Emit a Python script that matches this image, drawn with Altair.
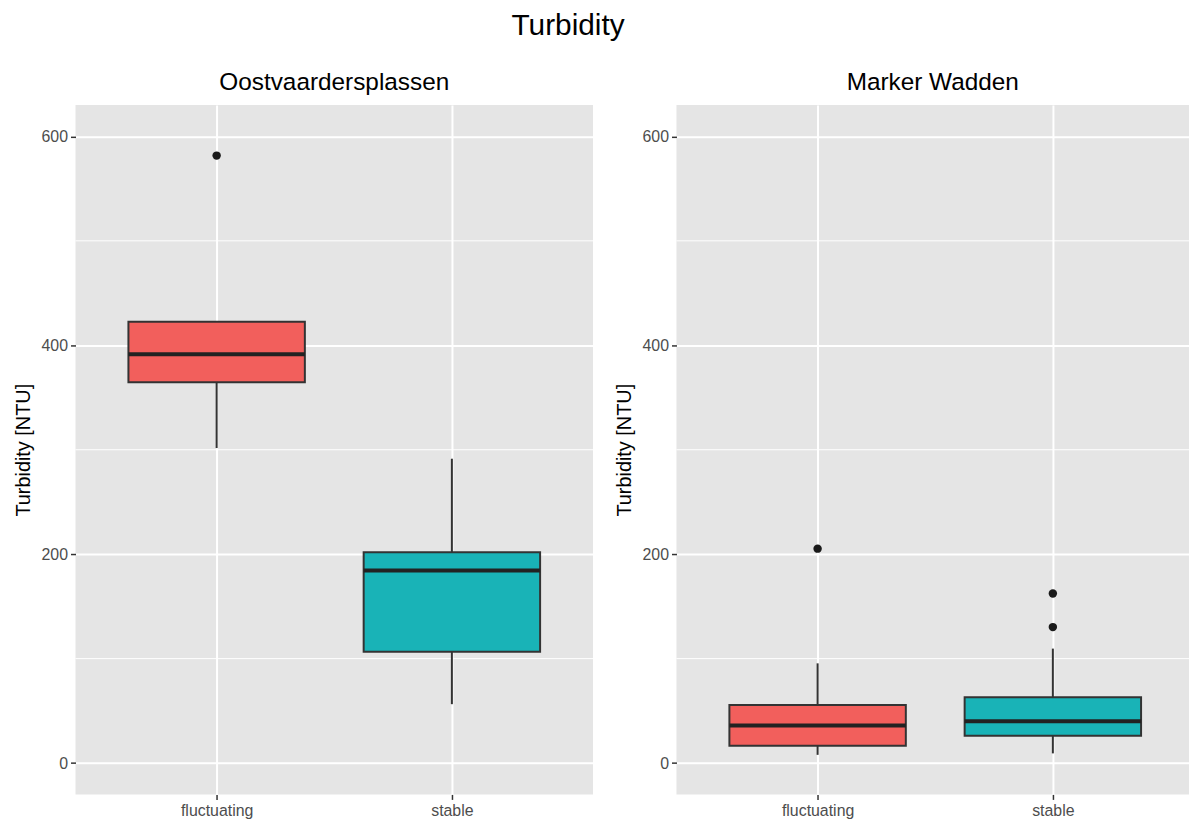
import altair as alt
import pandas as pd

# ---- data ----
categories = ["fluctuating", "stable"]
fill_colors = ["#F25F5C", "#19B3B7"]

ovp_title = "Oostvaardersplassen"
ovp_lower = [301.6, 56.4]
ovp_q1 = [364.7, 106.7]
ovp_median = [391.4, 184.4]
ovp_q3 = [422.6, 201.9]
ovp_upper = [422.6, 291.4]
ovp_outlier_cat = ["fluctuating"]
ovp_outlier_val = [581.6]

mw_title = "Marker Wadden"
mw_lower = [7.9, 9.3]
mw_q1 = [16.5, 26.1]
mw_median = [36.0, 40.1]
mw_q3 = [55.7, 63.1]
mw_upper = [95.5, 109.6]
mw_outlier_cat = ["fluctuating", "stable", "stable"]
mw_outlier_val = [205.3, 162.4, 130.2]

y_ticks = [0, 200, 400, 600]
y_minor = [100, 300, 500]
y_domain = [-30, 630]
y_title = "Turbidity [NTU]"

FONT = "Liberation Sans"
PANEL_H = 694
FULL_W = 521


def panel(title, lower, q1, med, q3, upper, ocat, oval, width):
    box = pd.DataFrame({"category": categories, "lower": lower, "q1": q1,
                        "median": med, "q3": q3, "upper": upper})
    outl = pd.DataFrame({"category": ocat, "value": oval})
    minor = pd.DataFrame({"v": y_minor})

    step = FULL_W / 2.2
    box_w = 0.75 * step

    xs = alt.Scale(type="point", padding=0.6, domain=categories, range=[0, FULL_W])
    ys = alt.Scale(domain=y_domain, nice=False, zero=False)
    xax = alt.Axis(title=None, labelAngle=0, grid=True)
    yax = alt.Axis(values=y_ticks, title=y_title)

    minor_layer = alt.Chart(minor).mark_rule(color="white", strokeWidth=1).encode(
        y=alt.Y("v:Q", scale=ys, axis=yax, title=y_title))
    whisk = alt.Chart(box).mark_rule(color="#333333", strokeWidth=2).encode(
        x=alt.X("category:N", scale=xs, axis=xax),
        y=alt.Y("lower:Q", scale=ys, axis=yax, title=y_title),
        y2="upper:Q")
    bars = alt.Chart(box).mark_bar(size=box_w, stroke="#333333", strokeWidth=2).encode(
        x=alt.X("category:N", scale=xs, axis=xax),
        y=alt.Y("q1:Q", scale=ys, axis=yax, title=y_title),
        y2="q3:Q",
        fill=alt.Fill("category:N", scale=alt.Scale(domain=categories, range=fill_colors),
                      legend=None))
    meds = alt.Chart(box).mark_tick(size=box_w, thickness=4, color="#222222", opacity=1).encode(
        x=alt.X("category:N", scale=xs, axis=xax),
        y=alt.Y("median:Q", scale=ys, axis=yax, title=y_title))
    pts = alt.Chart(outl).mark_circle(size=72, color="#1A1A1A", opacity=1).encode(
        x=alt.X("category:N", scale=xs, axis=xax),
        y=alt.Y("value:Q", scale=ys, axis=yax, title=y_title))

    return alt.layer(minor_layer, whisk, bars, meds, pts).properties(
        width=width, height=PANEL_H,
        title=alt.TitleParams(title, fontSize=24.5, font=FONT, fontWeight="normal",
                              anchor="middle", color="black", offset=10))


p1 = panel(ovp_title, ovp_lower, ovp_q1, ovp_median, ovp_q3, ovp_upper,
           ovp_outlier_cat, ovp_outlier_val, FULL_W)
p2 = panel(mw_title, mw_lower, mw_q1, mw_median, mw_q3, mw_upper,
           mw_outlier_cat, mw_outlier_val, 516)

chart = alt.hconcat(p1, p2, spacing=20).properties(
    title=alt.TitleParams("Turbidity", fontSize=30, font=FONT, fontWeight="normal",
                          anchor="middle", color="black", offset=29, dx=-36),
    padding={"left": 13, "top": 8, "right": 0, "bottom": 0},
    background="white",
).configure_view(fill="#E5E5E5", stroke=None).configure_axis(
    domain=False, tickColor="#333333", tickSize=5, tickWidth=1.5,
    labelColor="#4D4D4D", labelFontSize=16, labelFont=FONT, labelPadding=3,
    titleFont=FONT, titleFontSize=20, titleFontWeight="normal", titleColor="black",
    titlePadding=7.5, gridColor="white", gridWidth=2,
)

chart.save("out.html", embed_options={"renderer": "svg", "actions": False})
